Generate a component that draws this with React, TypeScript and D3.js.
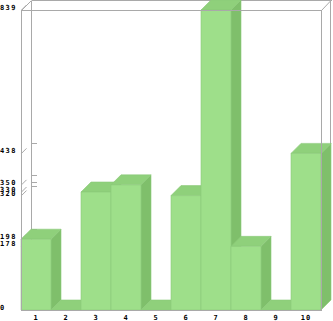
import React from "react";
import * as d3 from "d3";

const categories = ["1", "2", "3", "4", "5", "6", "7", "8", "9", "10"];
const values = [198, 0, 330, 350, 0, 320, 839, 178, 0, 438];
const tickValues = [0, 178, 198, 320, 330, 350, 438, 839];

const W = 333;
const H = 321;
const DEPTH = 10;
const FRONT = "#9edf8a";
const TOP = "#8fd07b";
const SIDE = "#7fbf6b";
const EDGE = "#8cc979";
const FRAME = "#a9a9a9";
const FONT = "'DejaVu Sans Mono', monospace";

export default function App() {
  const yMax = d3.max(values) as number;
  const y = d3.scaleLinear().domain([0, yMax]).range([310, 10]);
  const x = d3.scaleBand<string>().domain(categories).range([21, 321]).padding(0);
  const left = x.range()[0];
  const right = x.range()[1];
  const top = y(yMax);
  const bottom = y(0);
  const bw = x.bandwidth();

  const pts = (arr: [number, number][]) => arr.map((p) => p.join(",")).join(" ");

  return (
    <svg
      width={W}
      height={H}
      style={{ position: "absolute", left: 0, top: 0, background: "#fff" }}
    >
      {/* back wall frame */}
      <g stroke={FRAME} strokeWidth={1} fill="none" shapeRendering="crispEdges">
        <line x1={left + DEPTH + 0.5} y1={top - DEPTH + 0.5} x2={right + DEPTH + 0.5} y2={top - DEPTH + 0.5} />
        <line x1={left + DEPTH + 0.5} y1={top - DEPTH + 0.5} x2={left + DEPTH + 0.5} y2={bottom - DEPTH} />
        <line x1={right + DEPTH - 0.5} y1={top - DEPTH + 0.5} x2={right + DEPTH - 0.5} y2={bottom - DEPTH} />
      </g>
      <g stroke={FRAME} strokeWidth={1} fill="none">
        <line x1={left + 0.5} y1={top + 0.5} x2={left + DEPTH + 0.5} y2={top - DEPTH + 0.5} />
        <line x1={right + 0.5} y1={top + 0.5} x2={right + DEPTH} y2={top - DEPTH + 0.5} />
      </g>
      {/* ticks */}
      {tickValues.map((v) => (
        <g key={"t" + v} stroke={FRAME} strokeWidth={1} fill="none">
          <line
            x1={left + DEPTH + 0.5}
            x2={left + DEPTH + 6}
            y1={Math.round(y(v) - DEPTH) + 0.5}
            y2={Math.round(y(v) - DEPTH) + 0.5}
            shapeRendering="crispEdges"
          />
          <line
            x1={left + 0.5}
            y1={y(v)}
            x2={left + DEPTH / 2 + 0.5}
            y2={y(v) - DEPTH / 2}
          />
        </g>
      ))}
      {/* bars */}
      {categories.map((c, i) => {
        const x0 = x(c) as number;
        const x1 = x0 + bw;
        const yt = y(values[i]);
        return (
          <g key={"b" + c} stroke={EDGE} strokeWidth={0.6} strokeLinejoin="round">
            <polygon
              fill={SIDE}
              points={pts([
                [x1, yt],
                [x1 + DEPTH, yt - DEPTH],
                [x1 + DEPTH, bottom - DEPTH],
                [x1, bottom],
              ])}
            />
            <polygon
              fill={TOP}
              points={pts([
                [x0, yt],
                [x0 + DEPTH, yt - DEPTH],
                [x1 + DEPTH, yt - DEPTH],
                [x1, yt],
              ])}
            />
            {values[i] > 0 && (
              <rect x={x0} y={yt} width={bw} height={bottom - yt} fill={FRONT} />
            )}
          </g>
        );
      })}
      {/* front frame over bars */}
      <g stroke={FRAME} strokeWidth={1} fill="none" shapeRendering="crispEdges">
        <line x1={left + 0.5} y1={top + 0.5} x2={right + 0.5} y2={top + 0.5} />
        <line x1={left + 0.5} y1={top} x2={left + 0.5} y2={bottom + 1} />
        <line x1={right + 0.5} y1={top} x2={right + 0.5} y2={bottom + 1} />
        <line x1={left} y1={bottom + 0.5} x2={right + 1} y2={bottom + 0.5} />
      </g>
      {/* y labels */}
      {tickValues.map((v) => (
        <text
          key={"l" + v}
          x={0}
          y={y(v)}
          fontFamily={FONT}
          fontSize={7}
          fontWeight="bold"
          letterSpacing={1.4}
          fill="#000"
        >
          {v}
        </text>
      ))}
      {/* x labels */}
      {categories.map((c) => (
        <text
          key={"x" + c}
          x={(x(c) as number) + bw / 2}
          y={320}
          textAnchor="middle"
          fontFamily={FONT}
          fontSize={7}
          fontWeight="bold"
          letterSpacing={1}
          fill="#000"
        >
          {c}
        </text>
      ))}
    </svg>
  );
}
